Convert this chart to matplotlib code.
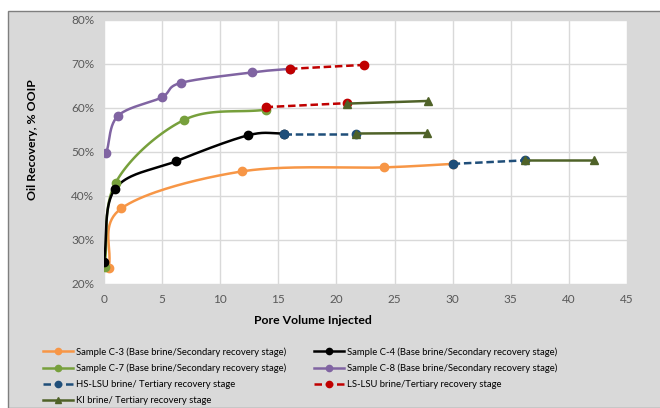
import numpy as np
import matplotlib
matplotlib.use('Agg')
import matplotlib.pyplot as plt
from matplotlib.lines import Line2D
from matplotlib.patches import Rectangle

plt.rcParams['font.family'] = ['Lato', 'DejaVu Sans']

# base brine (secondary recovery) curves
c3_x = [0.4, 1.5, 11.9, 24.1, 30.0]
c3_y = [23.7, 37.2, 45.6, 46.5, 47.3]
c4_x = [0.0, 0.95, 6.2, 12.4, 15.5]
c4_y = [25.1, 41.6, 47.9, 53.8, 54.2]
c7_x = [0.05, 1.0, 6.9, 13.9]
c7_y = [23.9, 43.0, 57.3, 59.6]
c8_x = [0.2, 1.2, 4.95, 6.6, 12.75, 16.0]
c8_y = [49.8, 58.2, 62.4, 65.7, 68.1, 68.9]

# tertiary stage segments
hs_c3_x, hs_c3_y = [30.0, 36.2], [47.3, 48.1]
hs_c4_x, hs_c4_y = [15.5, 21.7], [54.2, 54.2]
ls_c7_x, ls_c7_y = [13.9, 20.9], [60.2, 61.1]
ls_c8_x, ls_c8_y = [16.0, 22.4], [68.9, 69.8]
ki_c3_x, ki_c3_y = [36.2, 42.2], [48.1, 48.1]
ki_c4_x, ki_c4_y = [21.7, 27.8], [54.2, 54.3]
ki_c7_x, ki_c7_y = [20.9, 27.9], [61.0, 61.6]

ORANGE = '#f79646'
BLACK = '#000000'
GREEN = '#77a03c'
PURPLE = '#8064a2'
BLUE = '#1f4e79'
RED = '#c00000'
OLIVE = '#4f6228'


def smooth(xs, ys, n=40):
    # catmull-rom through the points, done in axis-scaled space
    p = np.column_stack([np.array(xs) / 45.0, np.array(ys) / 60.0])
    if len(p) < 3:
        return np.array(xs), np.array(ys)
    p = np.vstack([2 * p[0] - p[1], p, 2 * p[-1] - p[-2]])
    out = []
    for i in range(1, len(p) - 2):
        p0, p1, p2, p3 = p[i - 1], p[i], p[i + 1], p[i + 2]
        t = np.linspace(0, 1, n)[:, None]
        seg = 0.5 * ((2 * p1) + (-p0 + p2) * t + (2 * p0 - 5 * p1 + 4 * p2 - p3) * t ** 2
                     + (-p0 + 3 * p1 - 3 * p2 + p3) * t ** 3)
        out.append(seg if i == 1 else seg[1:])
    out = np.vstack(out)
    return out[:, 0] * 45.0, out[:, 1] * 60.0


fig = plt.figure(figsize=(6.6, 4.08), dpi=100)
fig.patch.set_facecolor('white')
fig.patches.append(Rectangle((8 / 660, 0), 1, 1 - 11 / 408, transform=fig.transFigure,
                             facecolor='#d9d9d9', edgecolor='#7f7f7f', lw=1.0, zorder=-10))

ax = fig.add_axes([104 / 660, 1 - 284 / 408, 523 / 660, 264 / 408])
ax.set_facecolor('white')

lw = 1.8
ms = 6

for xs, ys, c in [(c3_x, c3_y, ORANGE), (c7_x, c7_y, GREEN), (c4_x, c4_y, BLACK), (c8_x, c8_y, PURPLE)]:
    sx, sy = smooth(xs, ys)
    ax.plot(sx, sy, color=c, lw=lw, zorder=3)
    ax.plot(xs, ys, 'o', color=c, ms=ms, zorder=4)

for xs, ys in [(hs_c3_x, hs_c3_y), (hs_c4_x, hs_c4_y)]:
    ax.plot(xs, ys, '--o', color=BLUE, lw=lw, ms=ms, dashes=(3, 1.5), zorder=5)
for xs, ys in [(ls_c7_x, ls_c7_y), (ls_c8_x, ls_c8_y)]:
    ax.plot(xs, ys, '--o', color=RED, lw=lw, ms=ms, dashes=(3, 1.5), zorder=5)
for xs, ys in [(ki_c3_x, ki_c3_y), (ki_c4_x, ki_c4_y), (ki_c7_x, ki_c7_y)]:
    ax.plot(xs, ys, '-^', color=OLIVE, lw=lw, ms=ms, zorder=6)

ax.set_xlim(0, 45)
ax.set_ylim(20, 80)
ax.set_xticks(range(0, 46, 5))
ax.set_yticks(range(20, 81, 10))
ax.set_yticklabels([f'{v}%' for v in range(20, 81, 10)])
ax.grid(True, color='#d9d9d9', lw=1.0)
ax.set_axisbelow(True)
for s in ax.spines.values():
    s.set_visible(False)
ax.tick_params(length=0, labelsize=8.5, colors='#595959', pad=7)

fig.text(313 / 660, 1 - 320 / 408, 'Pore Volume Injected', ha='center', va='center',
         fontsize=8.8, fontweight='bold')
fig.text(33 / 660, 1 - 140 / 408, 'Oil Recovery, % OOIP', ha='center', va='center',
         rotation=90, fontsize=8.8, fontweight='bold')

ls = dict(lw=lw, ms=4.5)
h_c3 = Line2D([], [], color=ORANGE, marker='o', **ls)
h_c4 = Line2D([], [], color=BLACK, marker='o', **ls)
h_c7 = Line2D([], [], color=GREEN, marker='o', **ls)
h_c8 = Line2D([], [], color=PURPLE, marker='o', **ls)
h_hs = Line2D([], [], color=BLUE, marker='o', linestyle='--', dashes=(3, 1.5), **ls)
h_ls = Line2D([], [], color=RED, marker='o', linestyle='--', dashes=(3, 1.5), **ls)
h_ki = Line2D([], [], color=OLIVE, marker='^', **ls)

handles = [h_c3, h_c7, h_hs, h_ki, h_c4, h_c8, h_ls]
labels = ['Sample C-3 (Base brine/Secondary recovery stage)',
          'Sample C-7 (Base brine/Secondary recovery stage)',
          'HS-LSU brine/ Tertiary recovery stage',
          'KI brine/ Tertiary recovery stage',
          'Sample C-4 (Base brine/Secondary recovery stage)',
          'Sample C-8 (Base brine/Secondary recovery stage)',
          'LS-LSU brine/Tertiary recovery stage']
fig.legend(handles, labels, ncol=2, loc='upper left', bbox_to_anchor=(43 / 660, 1 - 347 / 408),
           frameon=False, fontsize=6.8, handlelength=3.2, handletextpad=0.3,
           columnspacing=2.9, labelspacing=0.75, borderaxespad=0, borderpad=0)

fig.savefig('out.png', dpi=100)
